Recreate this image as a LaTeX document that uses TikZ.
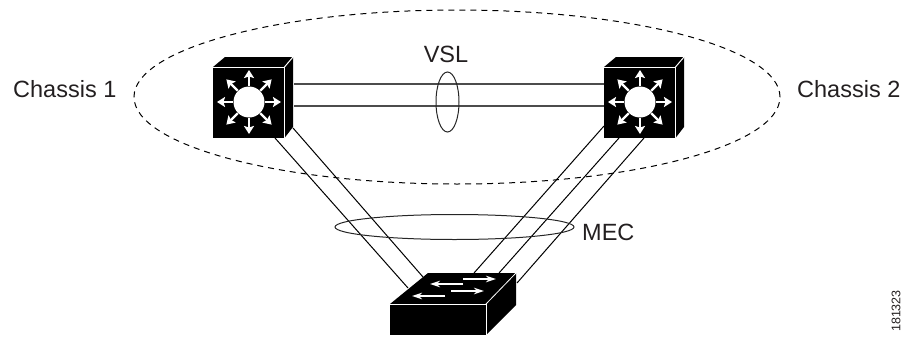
\documentclass[tikz,border=0pt]{standalone}
\usepackage{fontspec}
\setmainfont{Liberation Sans}
\usetikzlibrary{arrows.meta,shapes.geometric}
\definecolor{inktext}{HTML}{231F20}
\tikzstyle{boxface} = [fill=black, rectangle, inner sep=0pt]
\tikzstyle{hubcore} = [fill=white, circle, inner sep=0pt, minimum size=31pt]
\tikzstyle{edgeline} = [draw=white, line width=1pt]
\tikzstyle{whitearrow} = [draw=white, line width=2.2pt, -{Stealth[length=8pt,width=10pt,inset=1.5pt]}]
\tikzstyle{flatarrow} = [draw=white, line width=1.4pt, -{Stealth[length=10pt,width=6.5pt]}]
\tikzstyle{link} = [draw=black, line width=1pt]
\tikzstyle{vsllink} = [draw=black!70, line width=1.3pt]
\tikzstyle{bundle} = [draw=black!85, ellipse, inner sep=0pt, line width=1pt]
\tikzstyle{label} = [text=inktext, inner sep=0pt, font=\fontsize{23.5}{26}\selectfont]

\begin{document}
\begin{tikzpicture}[x=1pt, y=-1pt]
                \useasboundingbox (0,0) rectangle (906,343);
                \node [draw=black, dash pattern=on 6pt off 5pt, ellipse, inner sep=0pt, line width=1pt, minimum width=646pt, minimum height=174pt] (domain) at (457,97) {};
                \foreach \n/\cx in {1/249, 2/640} {
                    \fill (\cx-36,67) -- (\cx-24,57) -- (\cx+44,57) -- (\cx+44,127) -- (\cx+35.5,138) -- (\cx+35.5,67) -- cycle;
                    \node [boxface, minimum width=71.5pt, minimum height=71pt] (chassis\n) at (\cx-0.25,102.5) {};
                    \draw [edgeline] (\cx-36,67) -- (\cx+35.5,67) -- (\cx+35.5,138);
                    \draw [edgeline] (\cx+35.5,67) -- (\cx+44,57);
                    \node [hubcore] (hub\n) at (\cx,102) {};
                    \foreach \a in {0,45,...,315}
                        \draw [whitearrow] (\cx,102) ++(\a:16) -- ++(\a:16);
                }
                \coordinate (vslA1) at (294,84);
                \coordinate (vslA2) at (604,84);
                \coordinate (vslB1) at (294,106);
                \coordinate (vslB2) at (604,106);
                \draw [vsllink] (vslA1) -- (vslA2);
                \draw [vsllink] (vslB1) -- (vslB2);
                \fill (390,304) -- (428,273) -- (516,273) -- (516,305) -- (486,335) -- (486,304) -- cycle;
                \node [boxface, minimum width=96pt, minimum height=31pt] (access) at (438,319.5) {};
                \draw [edgeline, line width=0.8pt] (390,304) -- (486,304) -- (486,335);
                \draw [edgeline, line width=0.8pt] (486,304) -- (516,273);
                \coordinate (upA) at (275,138);
                \coordinate (upB) at (293,128);
                \coordinate (upC) at (604,126);
                \coordinate (upD) at (619,138);
                \coordinate (upE) at (644,138);
                \coordinate (downA) at (408,288);
                \coordinate (downB) at (423,277);
                \coordinate (downC) at (474,273);
                \coordinate (downD) at (499,273);
                \coordinate (downE) at (517,283);
                \draw [link] (upA) -- (downA);
                \draw [link] (upB) -- (downB);
                \draw [link] (upC) -- (downC);
                \draw [link] (upD) -- (downD);
                \draw [link] (upE) -- (downE);
                \coordinate (flatA1) at (463,279);
                \coordinate (flatA2) at (496,279);
                \coordinate (flatB1) at (463,284);
                \coordinate (flatB2) at (430,284);
                \coordinate (flatC1) at (451,291);
                \coordinate (flatC2) at (484,291);
                \coordinate (flatD1) at (445,296);
                \coordinate (flatD2) at (412,296);
                \draw [flatarrow] (flatA1) -- (flatA2);
                \draw [flatarrow] (flatB1) -- (flatB2);
                \draw [flatarrow] (flatC1) -- (flatC2);
                \draw [flatarrow] (flatD1) -- (flatD2);
                \node [bundle, minimum width=23pt, minimum height=60pt] (vslring) at (447.5,102) {};
                \node [bundle, minimum width=239pt, minimum height=25pt] (mecring) at (454.5,227) {};
                \node [label, anchor=base west] (chassislabel1) at (13,97) {Chassis 1};
                \node [label, anchor=base west] (chassislabel2) at (797,97) {Chassis 2};
                \node [label, anchor=base] (vsllabel) at (446,62) {VSL};
                \node [label, anchor=base west] (meclabel) at (582,240) {MEC};
                \node [text=inktext, inner sep=0pt, font=\fontsize{12.5}{14}\selectfont, rotate=90] (figno) at (896,311) {181323};
            \end{tikzpicture}
\end{document}
